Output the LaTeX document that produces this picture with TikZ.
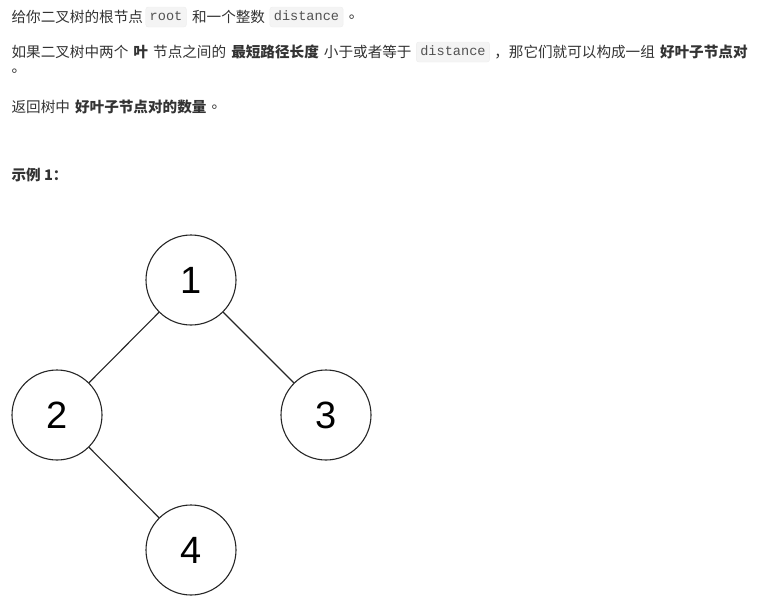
\documentclass[tikz,border=0pt]{standalone}
\usepackage{fontspec}
\setmainfont{Noto Sans CJK SC}
\newfontfamily\codefont{Liberation Mono}
\newfontfamily\digitfont{Liberation Sans}
\usetikzlibrary{positioning}
\definecolor{textgray}{HTML}{333333}
\definecolor{codebg}{HTML}{F4F4F4}
\definecolor{codeline}{HTML}{EDEDED}

\begin{document}
\begin{tikzpicture}[x=1pt,y=1pt,line width=1.1pt,
  txt/.style={anchor=west,inner sep=0pt,text=textgray,font=\fontsize{14.6}{14.6}\selectfont},
  bold/.style={txt,font=\fontsize{14.6}{14.6}\selectfont\bfseries},
  code/.style={fill=codebg,draw=codeline,line width=0.4pt,rounded corners=2.5pt,inner xsep=4pt,inner ysep=0pt,
    minimum height=20pt,text height=9pt,text depth=2pt,text=textgray!85,font=\codefont\fontsize{13.6}{13.6}\selectfont},
  treenode/.style={circle,draw=black!85,minimum size=90pt,inner sep=0pt,font=\digitfont\fontsize{38}{38}\selectfont}]
  \useasboundingbox (0,0) rectangle (769,-603);
  \node[txt] (l1a) at (11,-17) {给你二叉树的根节点};
  \node[code,right=2pt of l1a] (root) {root};
  \node[txt,right=5pt of root] (l1b) {和一个整数};
  \node[code,right=4pt of l1b] (dist1) {distance};
  \node[txt,right=5pt of dist1] (l1c) {。};

  \node[txt] (l2a) at (11,-52) {如果二叉树中两个};
  \node[bold,right=4pt of l2a] (l2b) {叶};
  \node[txt,right=4pt of l2b] (l2c) {节点之间的};
  \node[bold,right=4pt of l2c] (l2d) {最短路径长度};
  \node[txt,right=4pt of l2d] (l2e) {小于或者等于};
  \node[code,right=4pt of l2e] (dist2) {distance};
  \node[txt,right=4pt of dist2] (l2f) {，那它们就可以构成一组};
  \node[bold,right=4pt of l2f] (l2g) {好叶子节点对};
  \node[txt] (l2h) at (11,-71) {。};

  \node[txt] (l3a) at (11,-107) {返回树中};
  \node[bold,right=4pt of l3a] (l3b) {好叶子节点对的数量};
  \node[txt,right=4pt of l3b] (l3c) {。};

  \node[bold] (ex) at (11,-175) {示例 1：};

  \node[treenode] (n1) at (191,-280) {1};
  \node[treenode] (n2) at (57,-415) {2};
  \node[treenode] (n3) at (326,-415) {3};
  \node[treenode] (n4) at (191,-550) {4};
  \draw[black!85] (n1) -- (n2);
  \draw[black!85] (n1) -- (n3);
  \draw[black!85] (n2) -- (n4);
\end{tikzpicture}
\end{document}
